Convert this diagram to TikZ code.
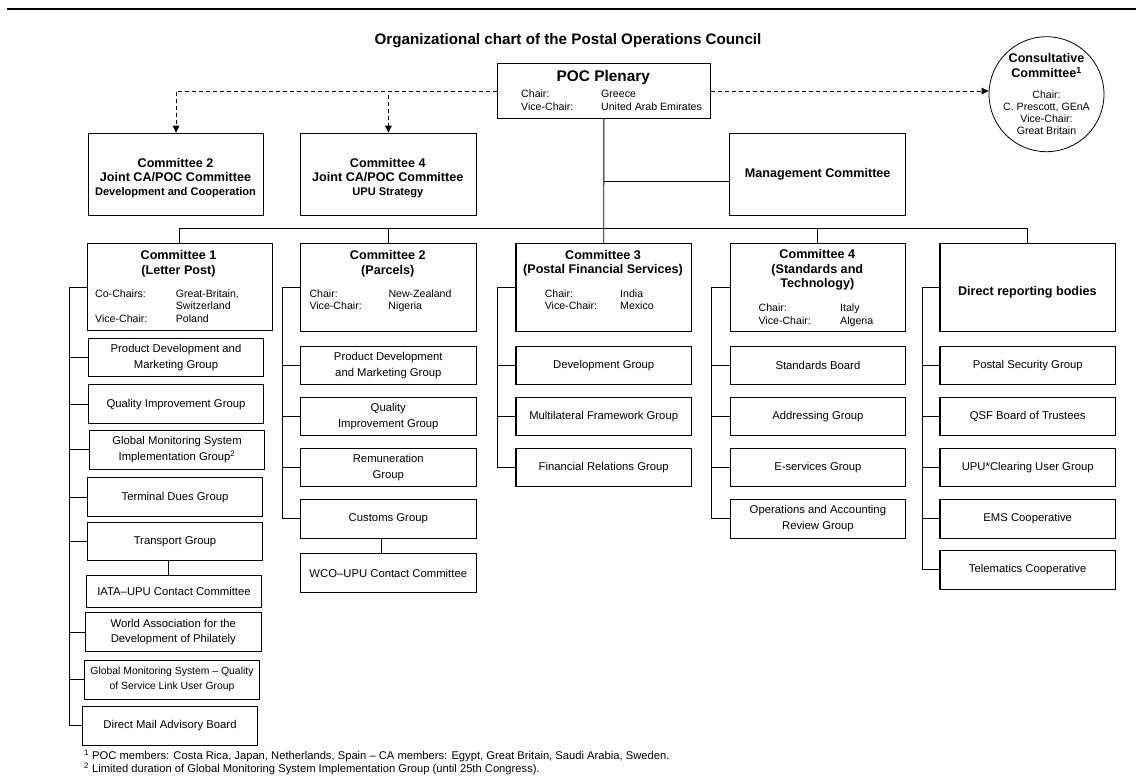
\documentclass[tikz,border=0pt]{standalone}
\usepackage{fontspec}
\setmainfont{Liberation Sans}
\usepackage{tikz}
\usetikzlibrary{arrows.meta}

% two-column chair list: label column of fixed width, then names
\newcommand{\chairtab}[2]{\begin{tabular}{@{}p{#1}@{}l@{}}#2\end{tabular}}

\begin{document}
\begin{tikzpicture}[
    x=1pt, y=-1pt,
    box/.style={draw, line width=1.1pt, inner sep=2pt, align=center, anchor=north west},
    grp/.style={box, minimum width=175.5pt, minimum height=38.5pt,
                font=\fontsize{11.3}{15.5}\selectfont},
    cbox/.style={box, minimum width=175.5pt, minimum height=88pt},
    ttl/.style={align=center, inner sep=0pt, font=\fontsize{12.6}{14.5}\selectfont\bfseries},
    chr/.style={anchor=west, inner sep=0pt, font=\fontsize{10.6}{12.3}\selectfont},
    ln/.style={line width=0.9pt},
    dsh/.style={ln, dash pattern=on 4pt off 3pt},
    >={Triangle[length=7pt,width=6.5pt]}
]
\useasboundingbox (0,0) rectangle (1136,776);

% rows shared by columns B--E
\def\rA{345.7}
\def\rB{396.7}
\def\rC{447.7}
\def\rD{499}
\def\rE{550}

% header
\draw[line width=2.7pt] (7,9) -- (1136,9);
\node[font=\fontsize{15.2}{18}\selectfont\bfseries] (title) at (568,41)
    {Organizational chart of the Postal Operations Council};

% plenary
\node[box, minimum width=213.3pt, minimum height=54.4pt] (poc) at (496.7,63.3) {};
\node[ttl, font=\fontsize{15.4}{18}\selectfont\bfseries] (poct) at (603.3,78) {POC Plenary};
\node[chr] (pocc) at (521,101.5)
    {\chairtab{80pt}{Chair: & Greece\\ Vice-Chair: & United Arab Emirates}};

% consultative committee
\node[circle, draw, line width=0.8pt, minimum size=115pt, inner sep=-4pt, align=center,
      font=\fontsize{10.6}{12}\selectfont] (cons) at (1046.5,94.2)
    {{\fontsize{12.6}{12}\selectfont\bfseries Consultative}\\[3pt]
     {\fontsize{12.6}{12}\selectfont\bfseries Committee\textsuperscript{1}}\\[9pt]
     Chair:\\ C. Prescott, GEnA\\ Vice-Chair:\\ Great Britain};

% joint CA/POC committees and management
\node[box, minimum width=175.6pt, minimum height=82.3pt] (jc2) at (87.7,132.7) {};
\node[ttl, font=\fontsize{12.6}{14}\selectfont\bfseries] (jc2t) at (175.5,178.5)
    {Committee 2\\Joint CA/POC Committee\\{\fontsize{11.1}{14}\selectfont Development and Cooperation}};
\node[box, minimum width=175.7pt, minimum height=82.3pt] (jc4) at (300,132.7) {};
\node[ttl, font=\fontsize{12.6}{14}\selectfont\bfseries] (jc4t) at (387.8,178.5)
    {Committee 4\\Joint CA/POC Committee\\{\fontsize{11.1}{14}\selectfont UPU Strategy}};
\node[box, minimum width=175.7pt, minimum height=81.7pt,
      font=\fontsize{12.6}{14.5}\selectfont\bfseries] (mgmt) at (729.3,133.3) {Management Committee};

% committees
\node[cbox, minimum width=185pt, minimum height=86.7pt] (c1) at (86.7,243.3) {};
\node[ttl] (c1t) at (178.5,263.5) {Committee 1\\(Letter Post)};
\node[chr] (c1c) at (95,307.5)
    {\chairtab{80.7pt}{Co-Chairs: & Great-Britain,\\ & Switzerland\\ Vice-Chair: & Poland}};

\node[cbox] (c2) at (300,243.3) {};
\node[ttl] (c2t) at (387.8,263.5) {Committee 2\\(Parcels)};
\node[chr] (c2c) at (309.3,301.3)
    {\chairtab{79pt}{Chair: & New-Zealand\\ Vice-Chair: & Nigeria}};

\node[cbox] (c3) at (515.4,243.3) {};
\node[ttl] (c3t) at (603,263) {Committee 3\\(Postal Financial Services)};
\node[chr] (c3c) at (544.6,301.3)
    {\chairtab{75.4pt}{Chair: & India\\ Vice-Chair: & Mexico}};

\node[cbox] (c4) at (729.6,243.3) {};
\node[ttl] (c4t) at (817.3,270) {Committee 4\\(Standards and\\Technology)};
\node[chr] (c4c) at (758.4,315.4)
    {\chairtab{81.6pt}{Chair: & Italy\\ Vice-Chair: & Algeria}};

\node[cbox] (dr) at (939.4,243.3) {};
\node[ttl] (drt) at (1027.4,292) {Direct reporting bodies};

% column A (letter post)
\node[grp] (pdmA) at (87.7,337.7) {Product Development and\\Marketing Group};
\node[grp] (qigA) at (87.7,384.3) {Quality Improvement Group};
\node[grp] (gmsA) at (88.7,430) {Global Monitoring System\\Implementation Group\textsuperscript{2}};
\node[grp] (tdgA) at (86.7,477.3) {Terminal Dues Group};
\node[grp] (trgA) at (86.7,521.7) {Transport Group};
\node[grp, minimum height=32pt] (iata) at (85.7,575) {IATA–UPU Contact Committee};
\node[grp] (wadp) at (85,612.3) {World Association for the\\Development of Philately};
\node[grp, font=\fontsize{10.4}{15}\selectfont] (gmsq) at (83.7,660)
    {Global Monitoring System – Quality\\of Service Link User Group};
\node[grp] (dmab) at (81.7,706) {Direct Mail Advisory Board};

% column B (parcels)
\node[grp] (pdmB) at (300,\rA) {Product Development\\and Marketing Group};
\node[grp] (qigB) at (300,\rB) {Quality\\Improvement Group};
\node[grp] (remB) at (300,\rC) {Remuneration\\Group};
\node[grp] (cusB) at (300,\rD) {Customs Group};
\node[grp] (wco) at (300,553.3) {WCO–UPU Contact Committee};

% column C (financial services)
\node[grp] (devC) at (515.4,\rA) {Development Group};
\node[grp] (mfgC) at (515.4,\rB) {Multilateral Framework Group};
\node[grp] (frgC) at (515.4,\rC) {Financial Relations Group};

% column D (standards)
\node[grp] (sbD) at (729.6,\rA) {Standards Board};
\node[grp] (adgD) at (729.6,\rB) {Addressing Group};
\node[grp] (esgD) at (729.6,\rC) {E-services Group};
\node[grp] (oarD) at (729.6,\rD) {Operations and Accounting\\Review Group};

% column E (direct reporting)
\node[grp] (psgE) at (939.4,\rA) {Postal Security Group};
\node[grp] (qsfE) at (939.4,\rB) {QSF Board of Trustees};
\node[grp] (upuE) at (939.4,\rC) {UPU*Clearing User Group};
\node[grp] (emsE) at (939.4,\rD) {EMS Cooperative};
\node[grp] (telE) at (939.4,\rE) {Telematics Cooperative};

% dashed links out of the plenary
\draw[dsh, ->] (poc.west) -| (jc2.north);
\draw[dsh, ->] (poc.west) -| (jc4.north);
\draw[dsh, ->] (poc.east) -- (poc.east -| cons.west);

% trunk, management branch and bus
\coordinate (bus) at (603.3,228.3);
\draw[ln] (poc.south) -- (c3.north);
\draw[ln] ([yshift=-6.5pt]mgmt.west) -- ([yshift=-6.5pt]mgmt.west -| poc.south);
\draw[ln] (c1.north) |- (bus -| dr.north) -- (dr.north);
\draw[ln] (c2.north) -- (c2.north |- bus);
\draw[ln] (c4.north) -- (c4.north |- bus);

% spines down the left of each column
\path (c1.west) ++(-17.7,0) coordinate (sA);
\path (c2.west) ++(-17.7,0) coordinate (sB);
\path (c3.west) ++(-18.4,0) coordinate (sC);
\path (c4.west) ++(-17.8,0) coordinate (sD);
\path (dr.west) ++(-17,0) coordinate (sE);

\draw[ln] (c1.west) -- (sA) |- (dmab.west);
\foreach \g in {pdmA,qigA,gmsA,tdgA,trgA,wadp,gmsq}
    \draw[ln] (\g.west) -- (\g.west -| sA);
\draw[ln] ([xshift=-6.5pt]trgA.south) -- ([xshift=-6.5pt]trgA.south |- iata.north);

\draw[ln] (c2.west) -- (sB) |- (cusB.west);
\foreach \g in {pdmB,qigB,remB}
    \draw[ln] (\g.west) -- (\g.west -| sB);
\draw[ln] ([xshift=-6.8pt]cusB.south) -- ([xshift=-6.8pt]cusB.south |- wco.north);

\draw[ln] (c3.west) -- (sC) |- (frgC.west);
\foreach \g in {devC,mfgC}
    \draw[ln] (\g.west) -- (\g.west -| sC);

\draw[ln] (c4.west) -- (sD) |- (oarD.west);
\foreach \g in {sbD,adgD,esgD}
    \draw[ln] (\g.west) -- (\g.west -| sD);

\draw[ln] (dr.west) -- (sE) |- (telE.west);
\foreach \g in {psgE,qsfE,upuE,emsE}
    \draw[ln] (\g.west) -- (\g.west -| sE);

% footnotes
\node[anchor=west, inner sep=0pt, align=left, font=\fontsize{11.2}{12.7}\selectfont] (notes) at (84,762.5)
    {\textsuperscript{1} POC members: Costa Rica, Japan, Netherlands, Spain – CA members: Egypt, Great Britain, Saudi Arabia, Sweden.\\
     \textsuperscript{2} Limited duration of Global Monitoring System Implementation Group (until 25th Congress).};

\end{tikzpicture}
\end{document}
